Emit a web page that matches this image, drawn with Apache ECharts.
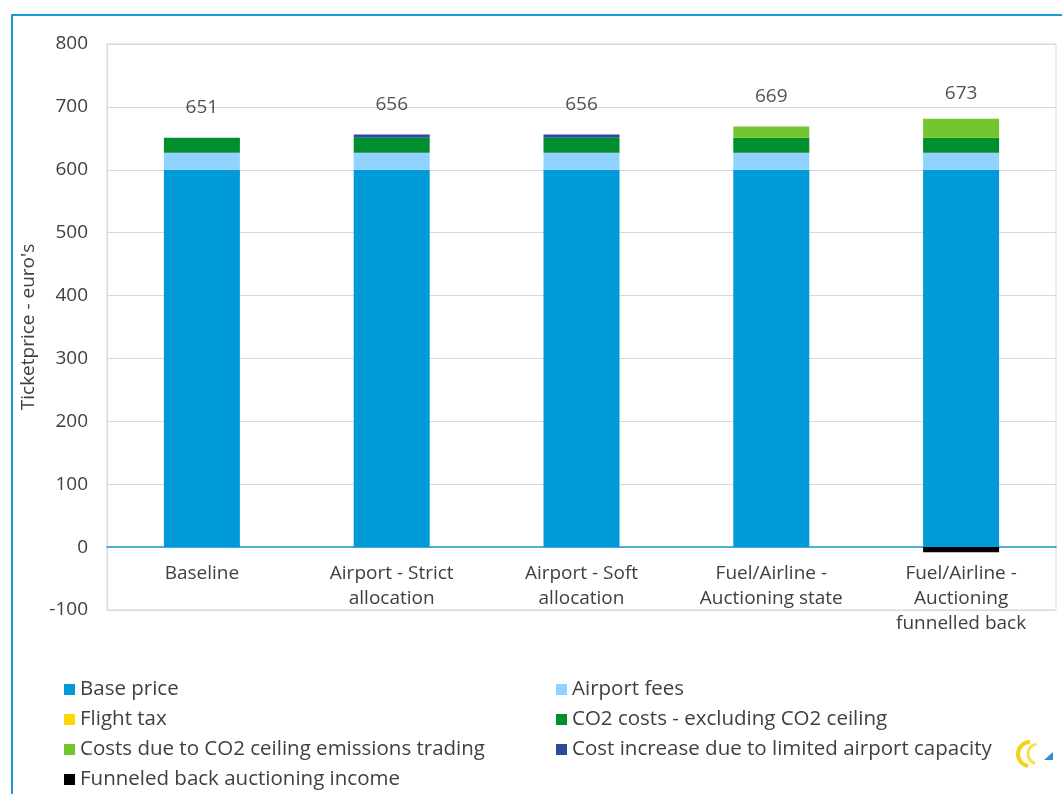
<!DOCTYPE html>
<html>
<head>
<meta charset="utf-8">
<script src="https://cdn.jsdelivr.net/npm/echarts@6/dist/echarts.min.js"></script>
<style>
html,body{margin:0;padding:0;background:#fff;}
#c{width:1062px;height:794px;}
</style>
</head>
<body>
<div id="c"></div>
<script>
const categories = ["Baseline", "Airport - Strict\nallocation", "Airport - Soft\nallocation", "Fuel/Airline -\nAuctioning state", "Fuel/Airline -\nAuctioning\nfunnelled back"];
const basePrice = [600, 600, 600, 600, 600];
const airportFees = [27, 27, 27, 27, 27];
const flightTax = [0, 0, 0, 0, 0];
const co2Costs = [24, 24, 24, 24, 24];
const co2Ceiling = [0, 0, 0, 18, 30];
const capacityIncrease = [0, 5, 5, 0, 0];
const funneledBack = [0, 0, 0, 0, -8];
const totals = [651, 656, 656, 669, 673];
const yTicks = [-100, 0, 100, 200, 300, 400, 500, 600, 700, 800];
const legendRows = [
  ['Base price', 'Airport fees'],
  ['Flight tax', 'CO2 costs - excluding CO2 ceiling'],
  ['Costs due to CO2 ceiling emissions trading', 'Cost increase due to limited airport capacity'],
  ['Funneled back auctioning income']
];

const FONT = "Open Sans";
const TXT = "#404040";

function bar(name, data, color) {
  return { name, type: 'bar', stack: 'total', data, barWidth: 76,
    itemStyle: { color }, emphasis: { disabled: true } };
}

const legends = [];
legendRows.forEach((row, i) => {
  row.forEach((name, j) => {
    legends.push({
      orient: 'horizontal', left: j === 0 ? 64 : 556, top: 679 + i * 30, padding: 0,
      itemWidth: 11, itemHeight: 11, itemGap: 10, icon: 'rect',
      textStyle: { color: TXT, fontSize: 20.5, fontFamily: FONT },
      data: [name]
    });
  });
});

const chart = echarts.init(document.getElementById('c'));
chart.setOption({
  animation: false,
  textStyle: { fontFamily: FONT },
  grid: { left: 107, right: 6, top: 44, bottom: 184, show: true, borderColor: '#d9d9d9', borderWidth: 1 },
  xAxis: {
    type: 'category', data: categories, offset: -63,
    axisLine: { onZero: false, lineStyle: { color: '#1a9bd7', width: 1.5 } },
    axisTick: { show: false },
    axisLabel: { color: TXT, fontSize: 19, lineHeight: 25, margin: 14, fontFamily: FONT, interval: 0 }
  },
  yAxis: {
    type: 'value', min: yTicks[0], max: yTicks[yTicks.length - 1], interval: 100,
    name: "Ticketprice - euro's", nameLocation: 'middle', nameGap: 66, nameRotate: 90,
    nameTextStyle: { color: TXT, fontSize: 19, fontFamily: FONT },
    axisLine: { show: true, lineStyle: { color: '#d9d9d9' } },
    axisTick: { show: false },
    axisLabel: { color: TXT, fontSize: 19, margin: 19, fontFamily: FONT },
    splitLine: { show: true, lineStyle: { color: '#d9d9d9', width: 1 } }
  },
  legend: legends,
  series: [
    bar('Base price', basePrice, '#009ad8'),
    bar('Airport fees', airportFees, '#8fd3fe'),
    bar('Flight tax', flightTax, '#ffd700'),
    bar('CO2 costs - excluding CO2 ceiling', co2Costs, '#008e2f'),
    bar('Costs due to CO2 ceiling emissions trading', co2Ceiling, '#74c62f'),
    bar('Cost increase due to limited airport capacity', capacityIncrease, '#2e4a9a'),
    bar('Funneled back auctioning income', funneledBack, '#000000'),
    { name: 'totals', type: 'scatter', data: totals, symbolSize: 1,
      itemStyle: { color: 'rgba(0,0,0,0)' }, silent: true,
      label: { show: true, position: 'top', distance: 20, color: '#262626', fontSize: 19, fontFamily: FONT } }
  ],
  graphic: [
    { type: 'rect', shape: { x: 12, y: 15, width: 1060, height: 800 }, style: { fill: 'none', stroke: '#1a9bd7', lineWidth: 2 }, silent: true },
    { type: 'arc', shape: { cx: 1030, cy: 754, r: 12, startAngle: Math.PI * 0.55, endAngle: Math.PI * 1.5 }, style: { fill: 'none', stroke: '#f2d21a', lineWidth: 4 } },
    { type: 'arc', shape: { cx: 1038, cy: 754, r: 10, startAngle: Math.PI * 0.6, endAngle: Math.PI * 1.45 }, style: { fill: 'none', stroke: '#f7e04a', lineWidth: 3 } },
    { type: 'polygon', shape: { points: [[1044, 760], [1053, 752], [1053, 760]] }, style: { fill: '#2a8fd6' } }
  ]
});
</script>
</body>
</html>
